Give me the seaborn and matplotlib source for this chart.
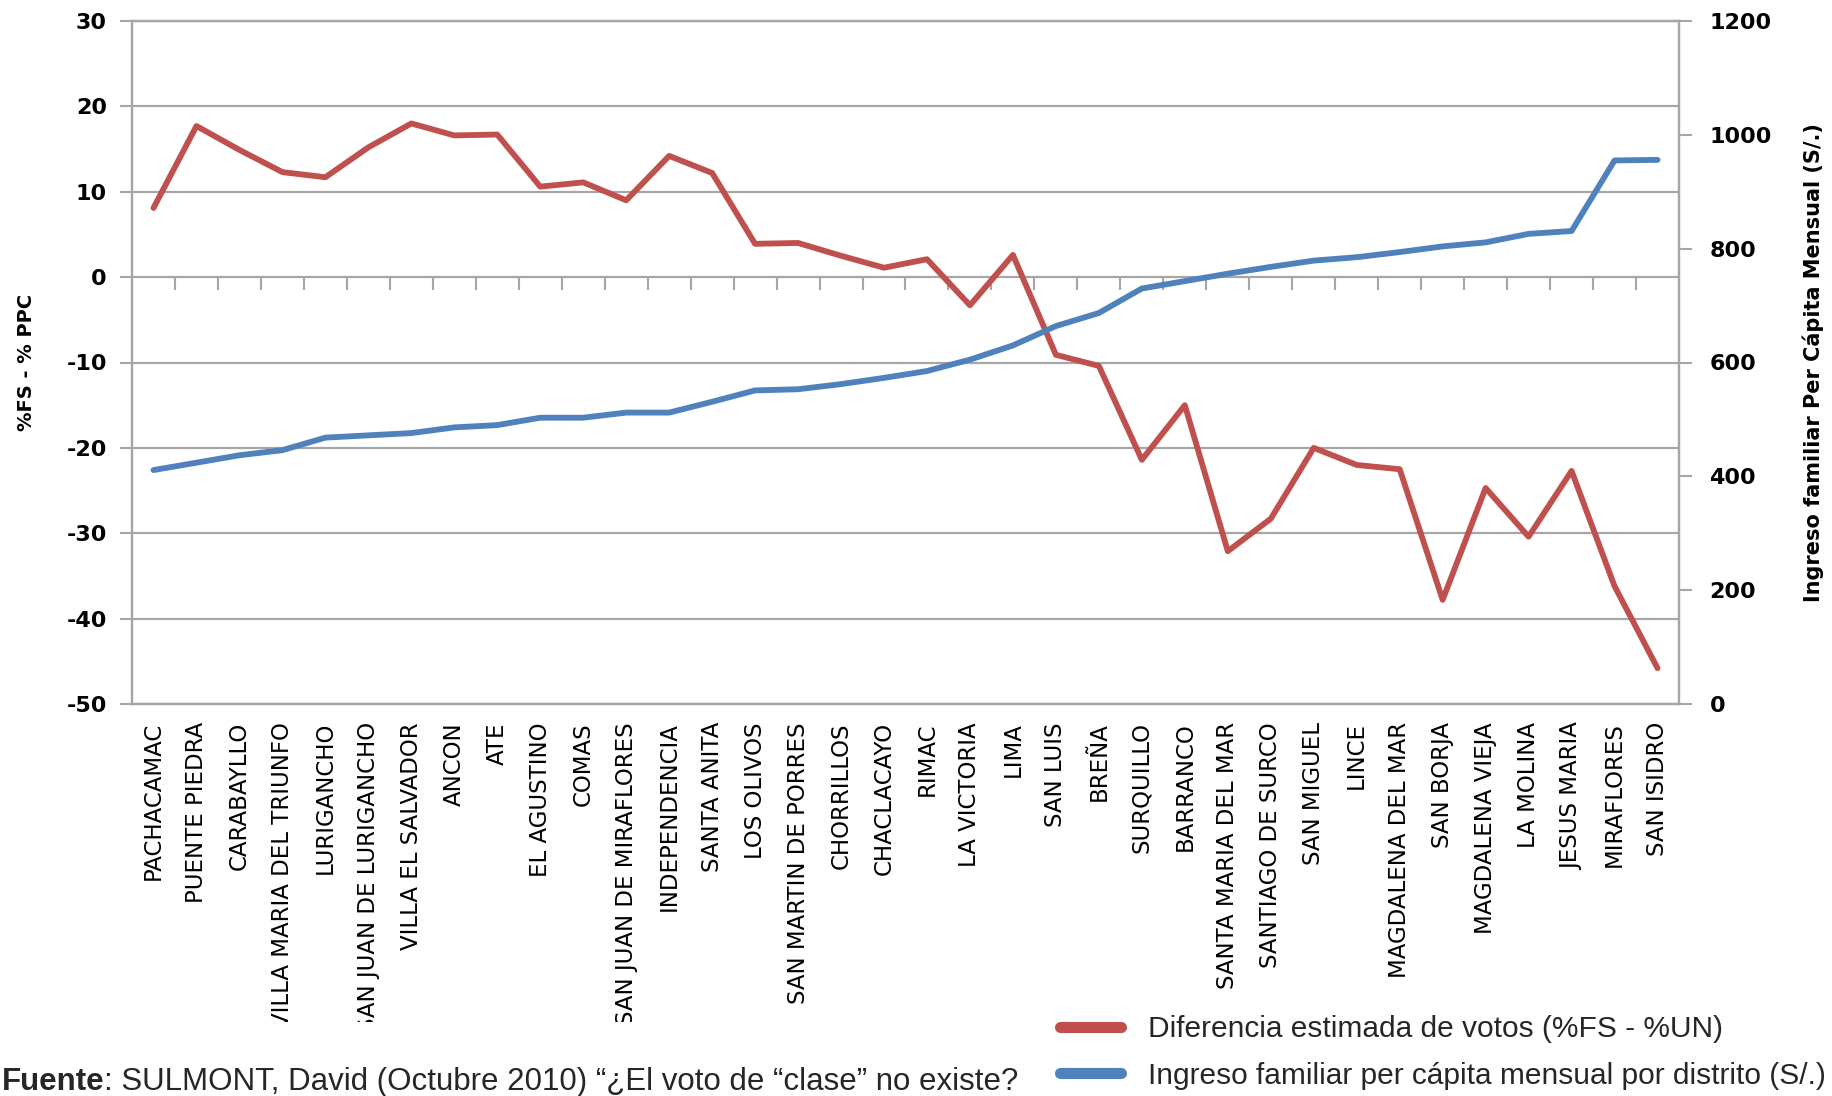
import matplotlib
matplotlib.use('Agg')
import numpy as np
import pandas as pd
import matplotlib.pyplot as plt
import seaborn as sns
from matplotlib.lines import Line2D
from matplotlib.transforms import Bbox, TransformedBbox

# Distritos de Lima ordenados por ingreso
distritos = ['PACHACAMAC', 'PUENTE PIEDRA', 'CARABAYLLO', 'VILLA MARIA DEL TRIUNFO',
             'LURIGANCHO', 'SAN JUAN DE LURIGANCHO', 'VILLA EL SALVADOR', 'ANCON', 'ATE',
             'EL AGUSTINO', 'COMAS', 'SAN JUAN DE MIRAFLORES', 'INDEPENDENCIA', 'SANTA ANITA',
             'LOS OLIVOS', 'SAN MARTIN DE PORRES', 'CHORRILLOS', 'CHACLACAYO', 'RIMAC',
             'LA VICTORIA', 'LIMA', 'SAN LUIS', 'BREÑA', 'SURQUILLO', 'BARRANCO',
             'SANTA MARIA DEL MAR', 'SANTIAGO DE SURCO', 'SAN MIGUEL', 'LINCE',
             'MAGDALENA DEL MAR', 'SAN BORJA', 'MAGDALENA VIEJA', 'LA MOLINA', 'JESUS MARIA',
             'MIRAFLORES', 'SAN ISIDRO']

# %FS - %UN (eje izquierdo)
diferencia = [8.1, 17.7, 14.9, 12.3, 11.7, 15.2, 18.0, 16.6, 16.7, 10.6, 11.1, 9.0,
              14.2, 12.2, 3.9, 4.0, 2.5, 1.1, 2.1, -3.3, 2.6, -9.1, -10.4, -21.4,
              -15.0, -32.1, -28.3, -20.0, -22.0, -22.5, -37.8, -24.7, -30.4, -22.7,
              -36.2, -45.8]

# Ingreso per capita mensual S/. (eje derecho)
ingreso = [411, 424, 437, 446, 468, 472, 476, 486, 490, 503, 503, 512, 512, 531,
           551, 553, 562, 573, 585, 605, 630, 664, 687, 730, 743, 756, 768, 779,
           785, 794, 804, 811, 826, 831, 955, 956]

left_ticks = list(range(-50, 31, 10))
right_ticks = list(range(0, 1201, 200))

serie_labels = ['Diferencia estimada de votos (%FS - %UN)',
                'Ingreso familiar per cápita mensual por distrito (S/.)']
fuente = ': SULMONT, David (Octubre 2010) “¿El voto de “clase” no existe?'

red = '#C0504D'
blue = '#4F81BD'
gray = '#A6A6A6'

sns.set_theme(style='white')
plt.rcParams['font.family'] = ['DejaVu Sans']
txt_font = 'Liberation Sans'

df = pd.DataFrame({'distrito': distritos, 'diferencia': diferencia, 'ingreso': ingreso})

fig = plt.figure(figsize=(18.32, 10.96), dpi=100)
ax = fig.add_axes([132 / 1832, 1 - 704 / 1096, 1547 / 1832, 683 / 1096])
ax2 = ax.twinx()

sns.lineplot(data=df, x='distrito', y='diferencia', ax=ax, color=red, lw=4.2, sort=False)
sns.lineplot(data=df, x='distrito', y='ingreso', ax=ax2, color=blue, lw=4.2, sort=False)

ax.set_xlim(-0.5, len(distritos) - 0.5)
ax.set_ylim(-50, 30)
ax2.set_ylim(0, 1200)

# gridlines
ax.yaxis.grid(True, color=gray, lw=1.6)
ax.xaxis.grid(False)
ax2.grid(False)
ax.set_axisbelow(True)

for a in (ax, ax2):
    for s in a.spines.values():
        s.set_color(gray)
        s.set_linewidth(1.6)

# x labels
ax.set_xticks(range(len(distritos)))
ax.set_xticklabels(distritos, rotation=90, fontsize=16.5, color='black')
ax.tick_params(axis='x', bottom=False, length=0, pad=13)
ax.set_xlabel('')

# left axis
ax.set_yticks(left_ticks)
ax.set_yticklabels([str(v) for v in left_ticks], fontweight='bold', fontsize=16, color='black')
ax.tick_params(axis='y', left=True, length=9, width=1.5, color=gray, pad=9)
ax.set_ylabel('%FS - % PPC', fontsize=14, fontweight='bold', color='black')
ax.yaxis.label.set_va('center')
ax.yaxis.set_label_coords(-0.0685, 0.5)

# right axis
ax2.set_yticks(right_ticks)
ax2.set_yticklabels([str(v) for v in right_ticks], fontweight='bold', fontsize=16, color='black')
ax2.tick_params(axis='y', right=True, length=9, width=1.5, color=gray, pad=13)
ax2.set_ylabel('Ingreso familiar Per Cápita Mensual (S/.)', fontsize=15,
               fontweight='bold', color='black', rotation=90)
ax2.yaxis.label.set_va('center')
ax2.yaxis.set_label_coords(1.0866, 0.5)

# category axis crossing at zero with tick marks between districts
sec = ax.secondary_xaxis(50 / 80)
sec.set_alignment('bottom')
sec.set_xticks(np.arange(0.5, len(distritos) - 1, 1))
sec.tick_params(axis='x', direction='out', length=9, width=1.5, color=gray,
                labelbottom=False, labeltop=False, bottom=True, top=False)
for s in sec.spines.values():
    s.set_visible(False)

# clip long labels like the source image
clip = TransformedBbox(Bbox([[0, 1 - 1022 / 1096], [1, 1]]), fig.transFigure)
for lbl in ax.get_xticklabels():
    lbl.set_clip_box(clip)
    lbl.set_clip_on(True)

# legend
handles = [Line2D([], [], color=red, lw=8), Line2D([], [], color=blue, lw=8)]
fig.legend(handles, serie_labels, loc='upper left',
           bbox_to_anchor=(1060 / 1832, 1 - 1015 / 1096), frameon=False,
           prop={'family': txt_font, 'size': 21.5}, handlelength=2.05,
           handletextpad=0.9, labelspacing=0.62, borderpad=0, borderaxespad=0)

# fuente
t1 = fig.text(0.001, 1 - 1090 / 1096, 'Fuente', fontweight='bold', va='baseline',
              family=txt_font, fontsize=22.5)
fig.canvas.draw()
ext = t1.get_window_extent()
fig.text(ext.x1 / fig.bbox.width, 1 - 1090 / 1096, fuente, va='baseline',
         family=txt_font, fontsize=22.5)

fig.savefig('out.png', dpi=100)
